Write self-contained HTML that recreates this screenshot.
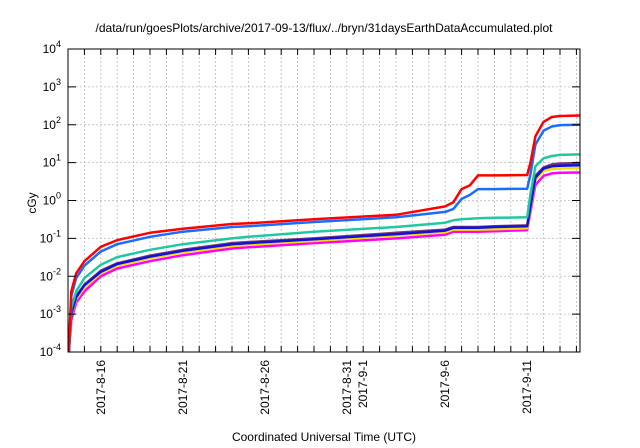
<!DOCTYPE html>
<html><head><meta charset="utf-8"><style>
body{margin:0;background:#fff;}
svg{display:block;font-family:"Liberation Sans",sans-serif;}
</style></head><body>
<svg id="chart" width="640" height="448" xmlns="http://www.w3.org/2000/svg">
<rect width="640" height="448" fill="#fff"/>
<text x="324" y="32" font-size="12" text-anchor="middle">/data/run/goesPlots/archive/2017-09-13/flux/../bryn/31daysEarthDataAccumulated.plot</text>
<text x="324" y="441" font-size="12" text-anchor="middle">Coordinated Universal Time (UTC)</text>
<text x="36" y="203" font-size="12" text-anchor="middle" transform="rotate(-90 36 203)">cGy</text>
<g id="grid"></g><g id="series"></g><g id="axes"></g>
</svg>
<script>
const times=[0.05,0.2,0.5,1,2,3,5,7,10,11,15,20,23,23.5,24,24.5,25,26,28,28.2,28.5,29,29.5,30,31.2];
const redVals=[1e-4,0.004,0.012,0.025,0.06,0.09,0.14,0.18,0.24,0.25,0.32,0.42,0.7,0.9,2,2.5,4.6,4.6,4.7,10,50,120,160,170,175];
const blueVals=[1e-4,0.003,0.009,0.019,0.045,0.07,0.11,0.15,0.2,0.21,0.27,0.36,0.5,0.6,1.1,1.4,2,2,2.05,5,30,70,90,98,100];
const tealVals=[1e-4,0.0015,0.004,0.009,0.02,0.032,0.05,0.07,0.1,0.11,0.15,0.2,0.26,0.3,0.32,0.33,0.34,0.35,0.36,1.5,8,13,15,16,16.5];
const purpleVals=[1e-4,0.001,0.003,0.006,0.014,0.022,0.035,0.05,0.075,0.08,0.1,0.14,0.17,0.2,0.2,0.2,0.2,0.21,0.22,0.8,4.5,7.5,9,9.5,9.8];
const navyVals=[1e-4,0.001,0.0028,0.0058,0.013,0.021,0.033,0.047,0.07,0.075,0.095,0.13,0.16,0.19,0.19,0.19,0.19,0.2,0.21,0.7,4,7,8,8.3,8.5];
const yellowVals=[1e-4,0.0009,0.0025,0.005,0.012,0.019,0.03,0.043,0.063,0.068,0.086,0.12,0.145,0.17,0.17,0.17,0.17,0.175,0.185,0.6,3.5,6,6.8,7,7.2];
const magentaVals=[1e-4,0.0007,0.002,0.004,0.01,0.016,0.025,0.036,0.054,0.058,0.075,0.1,0.125,0.15,0.15,0.15,0.15,0.155,0.165,0.5,2.6,4.5,5.2,5.4,5.5];
const seriesList=[["purple",purpleVals,"#7a3a6e"],["magenta",magentaVals,"#ff00ff"],["yellow",yellowVals,"#f0e000"],["navy",navyVals,"#1010e0"],["teal",tealVals,"#20c8a0"],["blue",blueVals,"#1a6cff"],["red",redVals,"#ff0000"]];
const yTicks=[-4,-3,-2,-1,0,1,2,3,4];
const xLabelDays=[2,7,12,17,18,23,28];
const xLabels=["2017-8-16","2017-8-21","2017-8-26","2017-8-31","2017-9-1","2017-9-6","2017-9-11"];
const L=68,R=580,T=49,B=352,NS="http://www.w3.org/2000/svg";
const dayW=16.4;
function xs(t){return L+t*dayW;}
function ys(v){return B-(Math.log10(v)+4)*(B-T)/8;}
function mk(tag,at,parent){const e=document.createElementNS(NS,tag);for(const k in at)e.setAttribute(k,at[k]);parent.appendChild(e);return e;}
const grid=document.getElementById('grid'),axes=document.getElementById('axes'),ser=document.getElementById('series');
for(let d=1;xs(d)<R;d++){
  const g=mk('line',{x1:xs(d),x2:xs(d),y1:T,y2:B,stroke:'#bbb','stroke-width':0.8,'stroke-dasharray':'2,2'},grid);
  
  
  const t1=mk('line',{x1:xs(d),x2:xs(d),y1:B,y2:B-6,stroke:'#000'},axes);
  
  
  const t2=mk('line',{x1:xs(d),x2:xs(d),y1:T,y2:T+6,stroke:'#000'},axes);
  
  
}
yTicks.forEach(p=>{
  const y=ys(Math.pow(10,p));
  if(p>-4&&p<4){const g=mk('line',{x1:L,x2:R,y1:y,y2:y,stroke:'#bbb','stroke-width':0.8,'stroke-dasharray':'2,2'},grid);
  
  }
  mk('line',{x1:L,x2:L+8,y1:y,y2:y,stroke:'#000'},axes);
  mk('line',{x1:R,x2:R-8,y1:y,y2:y,stroke:'#000'},axes);
  const tx=mk('text',{x:L-7,y:y+4,'font-size':12,'text-anchor':'end'},axes);
  
  
  tx.textContent='10';
  const sp=mk('tspan',{dy:-6,'font-size':9},tx);sp.textContent=String(p);
});
xLabelDays.forEach((d,i)=>{
  const x=xs(d)+4;
  const tx=mk('text',{x:x,y:360,'font-size':12,'text-anchor':'end',transform:`rotate(-90 ${x} 360)`},axes);
  
  
  tx.textContent=xLabels[i];
});
seriesList.forEach(([name,vals,col])=>{
  const pts=times.map((t,i)=>xs(t).toFixed(1)+','+ys(vals[i]).toFixed(1)).join(' ');
  const pl=mk('polyline',{points:pts,fill:'none',stroke:col,'stroke-width':2.5,'stroke-linejoin':'round'},ser);
  
  
});
const fr=mk('rect',{x:L,y:T,width:R-L,height:B-T,fill:'none',stroke:'#000','stroke-width':1},axes);


</script>
</body></html>
